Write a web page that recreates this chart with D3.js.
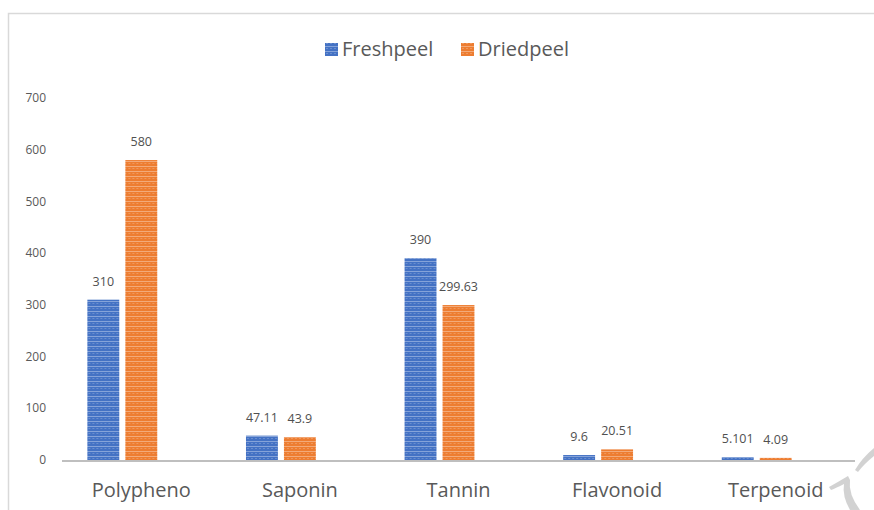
<!DOCTYPE html>
<html lang="en">
<head>
  <meta charset="UTF-8">
  <title>Freshpeel vs Driedpeel</title>
  <script src="https://d3js.org/d3.v7.min.js"></script>
  <style>
    body { margin: 0; background: #fff; }
    text { font-family: "Open Sans", sans-serif; }
    .tick-label { font-size: 12px; fill: #595959; }
    .cat-label { font-size: 20px; fill: #595959; }
    .val-label { font-size: 12.5px; fill: #505050; }
    .legend-label { font-size: 20px; fill: #595959; }
  </style>
</head>
<body>
  <svg id="chart"></svg>

  <script>
    const categories = ["Polypheno", "Saponin", "Tannin", "Flavonoid", "Terpenoid"];
    const seriesNames = ["Freshpeel", "Driedpeel"];
    const freshpeel = [310, 47.11, 390, 9.6, 5.101];
    const driedpeel = [580, 43.9, 299.63, 20.51, 4.09];
    const yTicks = [0, 100, 200, 300, 400, 500, 600, 700];
    const colors = ["#4472C4", "#ED7D31"];

    const width = 874, height = 510;
    const svg = d3.select("#chart").attr("width", width).attr("height", height);

    // chart frame (only top and left edges visible)
    svg.append("path")
      .attr("d", "M8.5," + height + "V13.5H" + width)
      .attr("fill", "none")
      .attr("stroke", "#d9d9d9")
      .attr("stroke-width", 1.5);

    // striped fills like the original picture
    const defs = svg.append("defs");
    colors.forEach((c, i) => {
      const p = defs.append("pattern")
        .attr("id", "stripe" + i)
        .attr("patternUnits", "userSpaceOnUse")
        .attr("width", 4).attr("height", 5);
      p.append("rect").attr("width", 4).attr("height", 5).attr("fill", c);
      p.append("rect").attr("y", 1).attr("width", 4).attr("height", 1)
        .attr("fill", "#fff").attr("opacity", 0.35);
      p.append("rect").attr("x", 1).attr("y", 3).attr("width", 2).attr("height", 1)
        .attr("fill", "#fff").attr("opacity", 0.2);
    });

    const y = d3.scaleLinear().domain([0, 700]).range([460, 98]);

    const x0 = d3.scaleBand().domain(categories)
      .range([62, 855]).paddingInner(0.32).paddingOuter(0.16);
    // third slot stays empty, as in the source chart
    const x1 = d3.scaleBand().domain([...seriesNames, ""])
      .range([0, x0.bandwidth()]).paddingInner(0.16);

    // y tick labels
    svg.append("g").selectAll("text")
      .data(yTicks)
      .join("text")
      .attr("class", "tick-label")
      .attr("x", 46)
      .attr("y", d => y(d))
      .attr("dy", "0.35em")
      .attr("text-anchor", "end")
      .text(d => d);

    const rows = categories.map((c, i) => ({ cat: c, vals: [freshpeel[i], driedpeel[i]] }));

    const groups = svg.append("g").selectAll("g")
      .data(rows)
      .join("g")
      .attr("transform", d => `translate(${x0(d.cat)},0)`);

    groups.selectAll("rect")
      .data(d => d.vals.map((v, i) => ({ s: seriesNames[i], v, i })))
      .join("rect")
      .attr("x", d => x1(d.s))
      .attr("y", d => y(d.v))
      .attr("width", x1.bandwidth())
      .attr("height", d => y(0) - y(d.v))
      .attr("fill", d => `url(#stripe${d.i})`);

    groups.selectAll("text")
      .data(d => d.vals.map((v, i) => ({ s: seriesNames[i], v })))
      .join("text")
      .attr("class", "val-label")
      .attr("x", d => x1(d.s) + x1.bandwidth() / 2)
      .attr("y", d => y(d.v) - 14)
      .attr("text-anchor", "middle")
      .text(d => d.v);

    // x axis line
    svg.append("line")
      .attr("x1", 62).attr("x2", 855)
      .attr("y1", y(0) + 1).attr("y2", y(0) + 1)
      .attr("stroke", "#bfbfbf").attr("stroke-width", 2);

    // category labels
    svg.append("g").selectAll("text")
      .data(categories)
      .join("text")
      .attr("class", "cat-label")
      .attr("x", d => x0(d) + x0.bandwidth() / 2)
      .attr("y", 497)
      .attr("text-anchor", "middle")
      .text(d => d);

    // legend
    const legendX = [325, 461];
    const legend = svg.append("g").selectAll("g")
      .data(seriesNames)
      .join("g")
      .attr("transform", (d, i) => `translate(${legendX[i]},0)`);
    legend.append("rect")
      .attr("y", 43).attr("width", 13).attr("height", 13)
      .attr("fill", (d, i) => `url(#stripe${i})`);
    legend.append("text")
      .attr("class", "legend-label")
      .attr("x", 17).attr("y", 56)
      .text(d => d);

    // faint watermark in the lower right corner
    const mark = svg.append("g").attr("fill", "#c8c8c8").attr("opacity", 0.8);
    mark.append("path")
      .attr("d", "M855,470 Q862,458 874,448 L874,456 Q864,464 858,472 Z");
    mark.append("path")
      .attr("d", "M829,487 Q838,482 848,476 L850,480 Q848,494 860,510 L850,510 Q842,496 844,484 Q836,488 831,490 Z");
  </script>
</body>
</html>
